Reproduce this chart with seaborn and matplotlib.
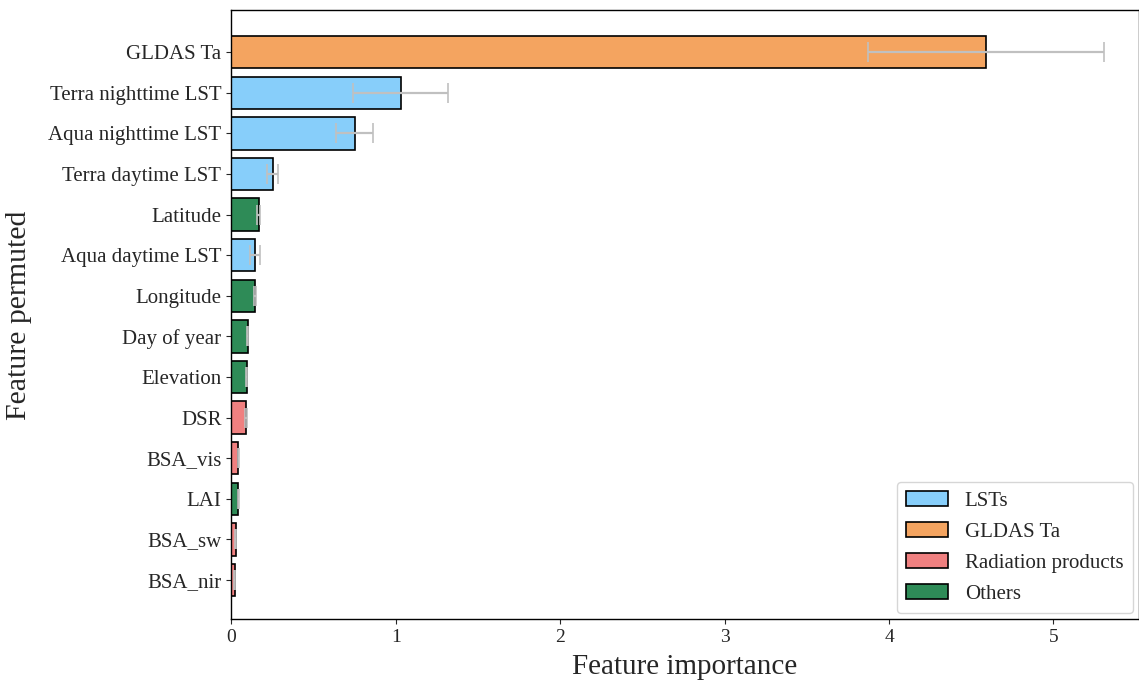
import numpy as np
import pandas as pd
import matplotlib
matplotlib.use("Agg")
import matplotlib.pyplot as plt
import seaborn as sns

# ─── Data ───────────────────────────────────────────────────────────────────
features = ["GLDAS Ta", "Terra nighttime LST", "Aqua nighttime LST", "Terra daytime LST",
            "Latitude", "Aqua daytime LST", "Longitude", "Day of year", "Elevation",
            "DSR", "BSA_vis", "LAI", "BSA_sw", "BSA_nir"]
importance = [4.59, 1.03, 0.75, 0.252, 0.166, 0.144, 0.146, 0.100, 0.095,
              0.089, 0.044, 0.042, 0.028, 0.020]
importance_std = [0.72, 0.29, 0.11, 0.033, 0.008, 0.028, 0.005, 0.004, 0.004,
                  0.004, 0.003, 0.003, 0.002, 0.002]
groups = ["GLDAS Ta", "LSTs", "LSTs", "LSTs", "Others", "LSTs", "Others", "Others",
          "Others", "Radiation products", "Radiation products", "Others",
          "Radiation products", "Radiation products"]
group_order = ["LSTs", "GLDAS Ta", "Radiation products", "Others"]
palette = {"LSTs": "#87CEFA", "GLDAS Ta": "#F4A460",
           "Radiation products": "#F08080", "Others": "#2E8B57"}

df = pd.DataFrame({"feature": features, "importance": importance,
                   "std": importance_std, "group": groups})

sns.set_style("ticks")
plt.rcParams["font.family"] = ["Liberation Serif", "DejaVu Serif"]

fig = plt.figure(figsize=(11.39, 6.89), dpi=100)
ax = fig.add_axes([0.203, 0.101, 0.797, 0.884])

sns.barplot(data=df, x="importance", y="feature", hue="group", hue_order=group_order,
            palette=palette, saturation=1, dodge=False, orient="h", width=0.8,
            edgecolor="black", linewidth=1.2, errorbar=None, ax=ax)
ax.errorbar(df["importance"], np.arange(len(df)), xerr=df["std"], fmt="none",
            ecolor="#c0c0c0", elinewidth=1.6, capsize=7, capthick=1.2)

ax.set_xlim(0, 5.52)
ax.set_ylim(len(df) - 0.03, -1.03)
ax.set_xlabel("Feature importance", fontsize=21, labelpad=6)
ax.set_ylabel("Feature permuted", fontsize=21.5, labelpad=12)
ax.tick_params(axis="y", labelsize=15)
ax.tick_params(axis="x", labelsize=14)
for sp in ax.spines.values():
    sp.set_color("black")
    sp.set_linewidth(1.0)

ax.legend(loc="lower right", fontsize=15, frameon=True, fancybox=True,
          handlelength=2.0, borderpad=0.45, labelspacing=0.55, borderaxespad=0.3)

fig.savefig("out.png", dpi=100)
